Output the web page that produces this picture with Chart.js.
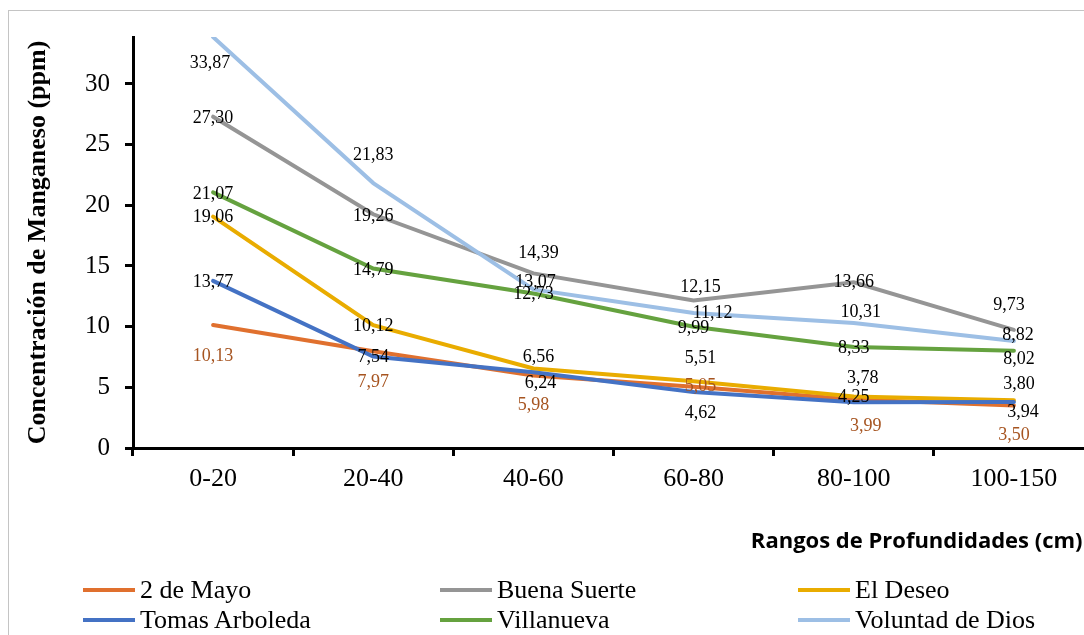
<!DOCTYPE html>
<html>
<head>
<meta charset="utf-8">
<script src="https://cdn.jsdelivr.net/npm/chart.js@4.4.1/dist/chart.umd.min.js"></script>
<style>
html, body { margin: 0; padding: 0; background: #fff; overflow: hidden; width: 1084px; height: 635px; }
#wrap { position: relative; width: 1100px; height: 635px; }
#frame { position: absolute; left: 8px; top: 10px; width: 1200px; height: 700px;
         border-left: 1px solid #c4c4c4; border-top: 1px solid #c4c4c4; }
#chart { position: absolute; left: 0; top: 0; }
.item { position: absolute; height: 30px; display: flex; align-items: center;
        font: 26px "Liberation Serif", serif; color: #000; white-space: nowrap; }
.item span { display: inline-block; width: 52px; height: 4px; margin-right: 5px; }
</style>
</head>
<body>
<div id="wrap">
  <div id="frame"></div>
  <canvas id="chart" width="1100" height="635"></canvas>
  <div id="legend"></div>
</div>
<script>
// categorias (profundidad) y series
const depths = ['0-20', '20-40', '40-60', '60-80', '80-100', '100-150'];
const seriesNames = ['2 de Mayo', 'Buena Suerte', 'El Deseo', 'Tomas Arboleda', 'Villanueva', 'Voluntad de Dios'];

const dosMayo      = [10.13, 7.97, 5.98, 5.05, 3.99, 3.50];
const buenaSuerte  = [27.30, 19.26, 14.39, 12.15, 13.66, 9.73];
const elDeseo      = [19.06, 10.12, 6.56, 5.51, 4.25, 3.94];
const tomasArboleda= [13.77, 7.54, 6.24, 4.62, 3.78, 3.80];
const villanueva   = [21.07, 14.79, 12.73, 9.99, 8.33, 8.02];
const voluntadDios = [33.87, 21.83, 13.07, 11.12, 10.31, 8.82];

const yTicks = [0, 5, 10, 15, 20, 25, 30];
const yMax = 33.87;
const yTitle = 'Concentración de Manganeso (ppm)';
const xTitle = 'Rangos de Profundidades (cm)';

const seriesData = [dosMayo, buenaSuerte, elDeseo, tomasArboleda, villanueva, voluntadDios];
const colors = ['#E0702E', '#959595', '#E9AC00', '#4472C4', '#65A23F', '#9DBFE5'];
const labelColors = ['#A65420', '#000', '#000', '#000', '#000', '#000'];

// desplazamiento (px) de cada etiqueta respecto a su punto
const labelOffsets = [
  [[0, 31], [0, 31], [0, 30], [7, 0], [12, 27], [0, 30]],
  [[0, 2], [0, 2], [5, -20], [7, -13], [0, 0], [-5, -25]],
  [[0, 1], [0, 1], [5, -11], [7, -23], [0, 1], [9, 12]],
  [[0, 1], [0, 1], [7, 11], [7, 21], [9, -24], [5, -18]],
  [[0, 2], [0, 2], [0, 1], [0, 1], [0, 1], [5, 9]],
  [[-3, 26], [0, -28], [2, -7], [19, 0], [7, -11], [4, -6]]
];

const valueLabels = {
  id: 'valueLabels',
  afterDatasetsDraw(chart) {
    const ctx = chart.ctx;
    ctx.save();
    ctx.font = '18px "Liberation Serif"';
    ctx.textAlign = 'center';
    ctx.textBaseline = 'middle';
    chart.data.datasets.forEach((ds, i) => {
      const meta = chart.getDatasetMeta(i);
      ctx.fillStyle = labelColors[i];
      meta.data.forEach((pt, j) => {
        const off = labelOffsets[i][j];
        ctx.fillText(ds.data[j].toFixed(2).replace('.', ','), pt.x + off[0], pt.y + off[1]);
      });
    });
    ctx.restore();
  }
};

const chart = new Chart(document.getElementById('chart'), {
  type: 'line',
  data: {
    labels: depths,
    datasets: seriesNames.map((name, i) => ({
      label: name,
      data: seriesData[i],
      borderColor: colors[i],
      backgroundColor: colors[i],
      borderWidth: 4,
      borderCapStyle: 'round',
      pointRadius: 0,
      tension: 0,
      fill: false,
      order: seriesNames.length - 1 - i
    }))
  },
  options: {
    responsive: false,
    animation: false,
    layout: { padding: { top: 37, right: 6, left: 0, bottom: 0 } },
    plugins: { legend: { display: false }, tooltip: { enabled: false } },
    scales: {
      x: {
        type: 'category',
        offset: true,
        grid: { offset: true, drawOnChartArea: false, tickLength: 8, tickWidth: 3, tickColor: '#000' },
        border: { color: '#000', width: 3 },
        ticks: { font: { family: 'Liberation Serif', size: 26 }, color: '#000', padding: 8, maxRotation: 0, autoSkip: false },
        // espacios finales para que el parentesis quede justo en el borde
        title: { display: true, text: xTitle + '  ', align: 'end', color: '#000',
                 font: { family: 'Open Sans', weight: 'bold', size: 22 }, padding: { top: 0, bottom: 80 } },
        afterFit(s) { s.height = 187; }
      },
      y: {
        min: 0,
        max: yMax,
        afterBuildTicks(s) { s.ticks = yTicks.map(v => ({ value: v })); },
        grid: { drawOnChartArea: false, tickLength: 8, tickWidth: 3, tickColor: '#000' },
        border: { color: '#000', width: 3 },
        ticks: { font: { family: 'Liberation Serif', size: 25 }, color: '#000', padding: 15 },
        title: { display: true, text: yTitle, color: '#000',
                 font: { family: 'Liberation Serif', weight: 'bold', size: 26 }, padding: { top: 23 } },
        afterFit(s) { s.width = 133; }
      }
    }
  },
  plugins: [valueLabels]
});

// leyenda en 3 columnas
const legendCols = [83, 440, 798];
const legendRows = [590, 620];
const legend = document.getElementById('legend');
chart.data.datasets.forEach((ds, i) => {
  const el = document.createElement('div');
  el.className = 'item';
  el.style.left = legendCols[i % 3] + 'px';
  el.style.top = (legendRows[Math.floor(i / 3)] - 15) + 'px';
  el.innerHTML = '<span style="background:' + ds.borderColor + '"></span>' + ds.label;
  legend.appendChild(el);
});
</script>
</body>
</html>
